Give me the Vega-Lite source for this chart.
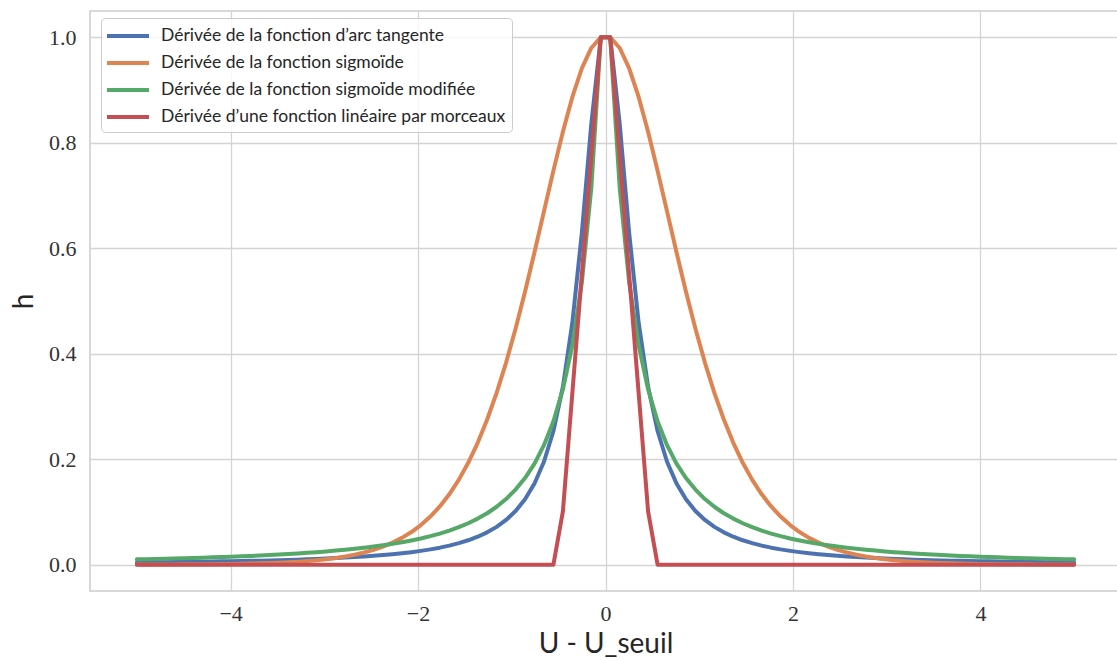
{
  "$schema": "https://vega.github.io/schema/vega-lite/v6.json",
  "autosize": "none",
  "width": 1031,
  "height": 580,
  "padding": {"left": 90, "top": 11, "right": 0, "bottom": 69},
  "background": "white",
  "config": {
    "view": {"stroke": "#cccccc", "strokeWidth": 1.5},
    "axis": {
      "ticks": false,
      "domain": false,
      "gridColor": "#d4d4d4",
      "gridWidth": 1.3,
      "labelFont": "Liberation Serif",
      "labelFontSize": 22,
      "labelColor": "#333333",
      "titleFont": "Lato",
      "titleFontSize": 28,
      "titleFontWeight": "normal",
      "titleColor": "#262626"
    },
    "legend": {
      "labelFont": "Lato",
      "labelFontSize": 17.5,
      "labelColor": "#262626"
    }
  },
  "data": {
    "values": [
      {"x": -5.0, "k1": 0.0041, "k2": 0.0002, "k3": 0.0100, "k4": 0},
      {"x": -4.899, "k1": 0.0043, "k2": 0.0002, "k3": 0.0104, "k4": 0},
      {"x": -4.798, "k1": 0.0045, "k2": 0.0003, "k3": 0.0108, "k4": 0},
      {"x": -4.697, "k1": 0.0047, "k2": 0.0003, "k3": 0.0112, "k4": 0},
      {"x": -4.596, "k1": 0.0049, "k2": 0.0004, "k3": 0.0117, "k4": 0},
      {"x": -4.4949, "k1": 0.0051, "k2": 0.0005, "k3": 0.0122, "k4": 0},
      {"x": -4.3939, "k1": 0.0054, "k2": 0.0006, "k3": 0.0127, "k4": 0},
      {"x": -4.2929, "k1": 0.0056, "k2": 0.0007, "k3": 0.0132, "k4": 0},
      {"x": -4.1919, "k1": 0.0059, "k2": 0.0009, "k3": 0.0138, "k4": 0},
      {"x": -4.0909, "k1": 0.0062, "k2": 0.0011, "k3": 0.0144, "k4": 0},
      {"x": -3.9899, "k1": 0.0065, "k2": 0.0014, "k3": 0.0150, "k4": 0},
      {"x": -3.8889, "k1": 0.0068, "k2": 0.0017, "k3": 0.0157, "k4": 0},
      {"x": -3.7879, "k1": 0.0072, "k2": 0.0021, "k3": 0.0165, "k4": 0},
      {"x": -3.6869, "k1": 0.0076, "k2": 0.0025, "k3": 0.0173, "k4": 0},
      {"x": -3.5859, "k1": 0.0080, "k2": 0.0031, "k3": 0.0182, "k4": 0},
      {"x": -3.4848, "k1": 0.0085, "k2": 0.0038, "k3": 0.0191, "k4": 0},
      {"x": -3.3838, "k1": 0.0090, "k2": 0.0046, "k3": 0.0201, "k4": 0},
      {"x": -3.2828, "k1": 0.0095, "k2": 0.0056, "k3": 0.0212, "k4": 0},
      {"x": -3.1818, "k1": 0.0102, "k2": 0.0069, "k3": 0.0224, "k4": 0},
      {"x": -3.0808, "k1": 0.0108, "k2": 0.0084, "k3": 0.0236, "k4": 0},
      {"x": -2.9798, "k1": 0.0116, "k2": 0.0103, "k3": 0.0250, "k4": 0},
      {"x": -2.8788, "k1": 0.0124, "k2": 0.0126, "k3": 0.0266, "k4": 0},
      {"x": -2.7778, "k1": 0.0133, "k2": 0.0154, "k3": 0.0282, "k4": 0},
      {"x": -2.6768, "k1": 0.0143, "k2": 0.0188, "k3": 0.0300, "k4": 0},
      {"x": -2.5758, "k1": 0.0154, "k2": 0.0230, "k3": 0.0320, "k4": 0},
      {"x": -2.4747, "k1": 0.0167, "k2": 0.0280, "k3": 0.0343, "k4": 0},
      {"x": -2.3737, "k1": 0.0181, "k2": 0.0342, "k3": 0.0367, "k4": 0},
      {"x": -2.2727, "k1": 0.0197, "k2": 0.0417, "k3": 0.0394, "k4": 0},
      {"x": -2.1717, "k1": 0.0216, "k2": 0.0508, "k3": 0.0425, "k4": 0},
      {"x": -2.0707, "k1": 0.0237, "k2": 0.0618, "k3": 0.0459, "k4": 0},
      {"x": -1.9697, "k1": 0.0261, "k2": 0.0751, "k3": 0.0497, "k4": 0},
      {"x": -1.8687, "k1": 0.0289, "k2": 0.0911, "k3": 0.0540, "k4": 0},
      {"x": -1.7677, "k1": 0.0322, "k2": 0.1104, "k3": 0.0589, "k4": 0},
      {"x": -1.6667, "k1": 0.0361, "k2": 0.1334, "k3": 0.0646, "k4": 0},
      {"x": -1.5657, "k1": 0.0407, "k2": 0.1607, "k3": 0.0710, "k4": 0},
      {"x": -1.4646, "k1": 0.0462, "k2": 0.1931, "k3": 0.0785, "k4": 0},
      {"x": -1.3636, "k1": 0.0530, "k2": 0.2311, "k3": 0.0873, "k4": 0},
      {"x": -1.2626, "k1": 0.0613, "k2": 0.2752, "k3": 0.0975, "k4": 0},
      {"x": -1.1616, "k1": 0.0716, "k2": 0.3259, "k3": 0.1098, "k4": 0},
      {"x": -1.0606, "k1": 0.0847, "k2": 0.3833, "k3": 0.1244, "k4": 0},
      {"x": -0.9596, "k1": 0.1016, "k2": 0.4475, "k3": 0.1423, "k4": 0},
      {"x": -0.8586, "k1": 0.1239, "k2": 0.5176, "k3": 0.1642, "k4": 0},
      {"x": -0.7576, "k1": 0.1538, "k2": 0.5924, "k3": 0.1916, "k4": 0},
      {"x": -0.6566, "k1": 0.1951, "k2": 0.6699, "k3": 0.2266, "k4": 0},
      {"x": -0.5556, "k1": 0.2534, "k2": 0.7472, "k3": 0.2720, "k4": 0},
      {"x": -0.4545, "k1": 0.3373, "k2": 0.8209, "k3": 0.3326, "k4": 0.1011},
      {"x": -0.3535, "k1": 0.4590, "k2": 0.8870, "k3": 0.4160, "k4": 0.3258},
      {"x": -0.2525, "k1": 0.6292, "k2": 0.9413, "k3": 0.5352, "k4": 0.5506},
      {"x": -0.1515, "k1": 0.8358, "k2": 0.9799, "k3": 0.7140, "k4": 0.7753},
      {"x": -0.0505, "k1": 1, "k2": 1, "k3": 1, "k4": 1},
      {"x": 0.0505, "k1": 1, "k2": 1, "k3": 1, "k4": 1},
      {"x": 0.1515, "k1": 0.8358, "k2": 0.9799, "k3": 0.7140, "k4": 0.7753},
      {"x": 0.2525, "k1": 0.6292, "k2": 0.9413, "k3": 0.5352, "k4": 0.5506},
      {"x": 0.3535, "k1": 0.4590, "k2": 0.8870, "k3": 0.4160, "k4": 0.3258},
      {"x": 0.4545, "k1": 0.3373, "k2": 0.8209, "k3": 0.3326, "k4": 0.1011},
      {"x": 0.5556, "k1": 0.2534, "k2": 0.7472, "k3": 0.2720, "k4": 0},
      {"x": 0.6566, "k1": 0.1951, "k2": 0.6699, "k3": 0.2266, "k4": 0},
      {"x": 0.7576, "k1": 0.1538, "k2": 0.5924, "k3": 0.1916, "k4": 0},
      {"x": 0.8586, "k1": 0.1239, "k2": 0.5176, "k3": 0.1642, "k4": 0},
      {"x": 0.9596, "k1": 0.1016, "k2": 0.4475, "k3": 0.1423, "k4": 0},
      {"x": 1.0606, "k1": 0.0847, "k2": 0.3833, "k3": 0.1244, "k4": 0},
      {"x": 1.1616, "k1": 0.0716, "k2": 0.3259, "k3": 0.1098, "k4": 0},
      {"x": 1.2626, "k1": 0.0613, "k2": 0.2752, "k3": 0.0975, "k4": 0},
      {"x": 1.3636, "k1": 0.0530, "k2": 0.2311, "k3": 0.0873, "k4": 0},
      {"x": 1.4646, "k1": 0.0462, "k2": 0.1931, "k3": 0.0785, "k4": 0},
      {"x": 1.5657, "k1": 0.0407, "k2": 0.1607, "k3": 0.0710, "k4": 0},
      {"x": 1.6667, "k1": 0.0361, "k2": 0.1334, "k3": 0.0646, "k4": 0},
      {"x": 1.7677, "k1": 0.0322, "k2": 0.1104, "k3": 0.0589, "k4": 0},
      {"x": 1.8687, "k1": 0.0289, "k2": 0.0911, "k3": 0.0540, "k4": 0},
      {"x": 1.9697, "k1": 0.0261, "k2": 0.0751, "k3": 0.0497, "k4": 0},
      {"x": 2.0707, "k1": 0.0237, "k2": 0.0618, "k3": 0.0459, "k4": 0},
      {"x": 2.1717, "k1": 0.0216, "k2": 0.0508, "k3": 0.0425, "k4": 0},
      {"x": 2.2727, "k1": 0.0197, "k2": 0.0417, "k3": 0.0394, "k4": 0},
      {"x": 2.3737, "k1": 0.0181, "k2": 0.0342, "k3": 0.0367, "k4": 0},
      {"x": 2.4747, "k1": 0.0167, "k2": 0.0280, "k3": 0.0343, "k4": 0},
      {"x": 2.5758, "k1": 0.0154, "k2": 0.0230, "k3": 0.0320, "k4": 0},
      {"x": 2.6768, "k1": 0.0143, "k2": 0.0188, "k3": 0.0300, "k4": 0},
      {"x": 2.7778, "k1": 0.0133, "k2": 0.0154, "k3": 0.0282, "k4": 0},
      {"x": 2.8788, "k1": 0.0124, "k2": 0.0126, "k3": 0.0266, "k4": 0},
      {"x": 2.9798, "k1": 0.0116, "k2": 0.0103, "k3": 0.0250, "k4": 0},
      {"x": 3.0808, "k1": 0.0108, "k2": 0.0084, "k3": 0.0236, "k4": 0},
      {"x": 3.1818, "k1": 0.0102, "k2": 0.0069, "k3": 0.0224, "k4": 0},
      {"x": 3.2828, "k1": 0.0095, "k2": 0.0056, "k3": 0.0212, "k4": 0},
      {"x": 3.3838, "k1": 0.0090, "k2": 0.0046, "k3": 0.0201, "k4": 0},
      {"x": 3.4848, "k1": 0.0085, "k2": 0.0038, "k3": 0.0191, "k4": 0},
      {"x": 3.5859, "k1": 0.0080, "k2": 0.0031, "k3": 0.0182, "k4": 0},
      {"x": 3.6869, "k1": 0.0076, "k2": 0.0025, "k3": 0.0173, "k4": 0},
      {"x": 3.7879, "k1": 0.0072, "k2": 0.0021, "k3": 0.0165, "k4": 0},
      {"x": 3.8889, "k1": 0.0068, "k2": 0.0017, "k3": 0.0157, "k4": 0},
      {"x": 3.9899, "k1": 0.0065, "k2": 0.0014, "k3": 0.0150, "k4": 0},
      {"x": 4.0909, "k1": 0.0062, "k2": 0.0011, "k3": 0.0144, "k4": 0},
      {"x": 4.1919, "k1": 0.0059, "k2": 0.0009, "k3": 0.0138, "k4": 0},
      {"x": 4.2929, "k1": 0.0056, "k2": 0.0007, "k3": 0.0132, "k4": 0},
      {"x": 4.3939, "k1": 0.0054, "k2": 0.0006, "k3": 0.0127, "k4": 0},
      {"x": 4.4949, "k1": 0.0051, "k2": 0.0005, "k3": 0.0122, "k4": 0},
      {"x": 4.596, "k1": 0.0049, "k2": 0.0004, "k3": 0.0117, "k4": 0},
      {"x": 4.697, "k1": 0.0047, "k2": 0.0003, "k3": 0.0112, "k4": 0},
      {"x": 4.798, "k1": 0.0045, "k2": 0.0003, "k3": 0.0108, "k4": 0},
      {"x": 4.899, "k1": 0.0043, "k2": 0.0002, "k3": 0.0104, "k4": 0},
      {"x": 5.0, "k1": 0.0041, "k2": 0.0002, "k3": 0.0100, "k4": 0}
    ]
  },
  "transform": [
    {"fold": ["k1", "k2", "k3", "k4"], "as": ["serie", "h"]}
  ],
  "mark": {"type": "line", "strokeWidth": 4, "strokeJoin": "round", "strokeCap": "round"},
  "encoding": {
    "x": {
      "field": "x",
      "type": "quantitative",
      "scale": {"domain": [-5.5, 5.5], "nice": false, "zero": false},
      "axis": {"values": [-4, -2, 0, 2, 4], "format": "d", "labelPadding": 12, "title": "U - U_seuil", "titlePadding": 6}
    },
    "y": {
      "field": "h",
      "type": "quantitative",
      "scale": {"domain": [-0.05, 1.05], "nice": false, "zero": false},
      "axis": {"values": [0, 0.2, 0.4, 0.6, 0.8, 1.0], "format": ".1f", "labelPadding": 14, "title": "h", "titlePadding": 10}
    },
    "color": {
      "field": "serie",
      "type": "nominal",
      "scale": {
        "domain": ["k1", "k2", "k3", "k4"],
        "range": ["#4C72B0", "#DD8452", "#55A868", "#C44E52"]
      },
      "legend": {
        "title": null,
        "orient": "none",
        "legendX": 11,
        "legendY": 7,
        "symbolType": "M-1.2,0H3",
        "symbolSize": 400,
        "symbolStrokeWidth": 4,
        "labelOffset": 30,
        "labelLimit": 0,
        "rowPadding": 6,
        "padding": 6,
        "fillColor": "rgba(255,255,255,0.8)",
        "strokeColor": "#cccccc",
        "cornerRadius": 4,
        "labelExpr": "datum.value === 'k1' ? 'Dérivée de la fonction d’arc tangente' : datum.value === 'k2' ? 'Dérivée de la fonction sigmoïde' : datum.value === 'k3' ? 'Dérivée de la fonction sigmoïde modifiée' : 'Dérivée d’une fonction linéaire par morceaux'"
      }
    }
  }
}
